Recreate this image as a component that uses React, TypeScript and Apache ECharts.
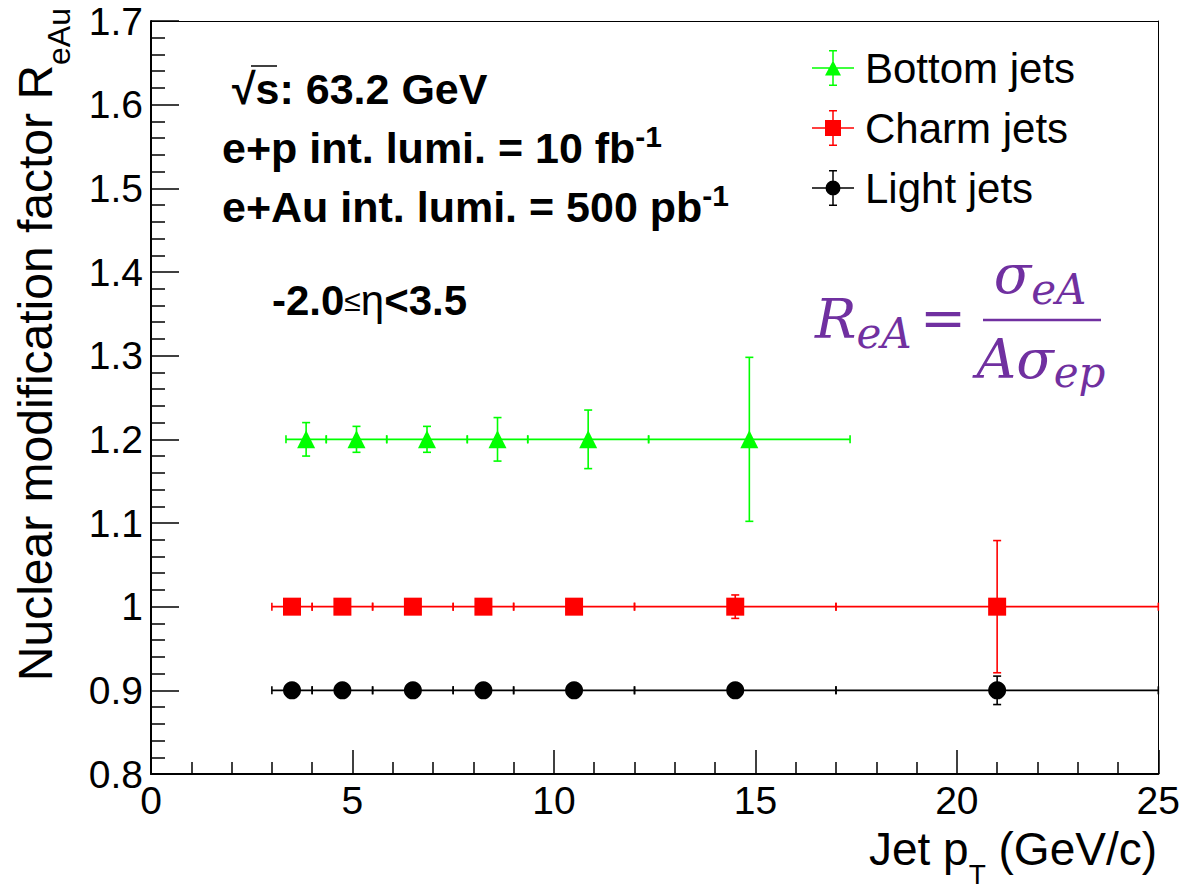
import React, { useEffect, useRef } from 'react';
import * as echarts from 'echarts';

// ---------- data ----------
const bottomX = [3.85, 5.1, 6.85, 8.6, 10.85, 14.85];
const bottomXLow = [3.35, 4.35, 5.85, 7.85, 9.35, 12.35];
const bottomXHigh = [4.35, 5.85, 7.85, 9.35, 12.35, 17.35];
const bottomY = [1.2, 1.2, 1.2, 1.2, 1.2, 1.2];
const bottomYErr = [0.02, 0.0155, 0.0155, 0.026, 0.035, 0.098];

const charmX = [3.5, 4.75, 6.5, 8.25, 10.5, 14.5, 21];
const charmXLow = [3, 4, 5.5, 7.5, 9, 12, 17];
const charmXHigh = [4, 5.5, 7.5, 9, 12, 17, 25];
const charmY = [1, 1, 1, 1, 1, 1, 1];
const charmYErr = [0.003, 0.003, 0.004, 0.004, 0.005, 0.014, 0.079];

const lightX = [3.5, 4.75, 6.5, 8.25, 10.5, 14.5, 21];
const lightXLow = [3, 4, 5.5, 7.5, 9, 12, 17];
const lightXHigh = [4, 5.5, 7.5, 9, 12, 17, 25];
const lightY = [0.9, 0.9, 0.9, 0.9, 0.9, 0.9, 0.9];
const lightYErr = [0.002, 0.002, 0.002, 0.003, 0.003, 0.006, 0.017];

const seriesNames = ['Bottom jets', 'Charm jets', 'Light jets'];
const X_MIN = 0, X_MAX = 25, X_STEP = 5;
const Y_MIN = 0.8, Y_MAX = 1.7, Y_STEP = 0.1;

const FONT = "'Liberation Sans', Arial, Helvetica, sans-serif";
const SERIF = "'DejaVu Serif', 'Liberation Serif', serif";
const PURPLE = '#7030a0';

// legend icons: error cross + marker (42 x 36 box)
const CROSS =
  'M0 17.25 h42 v1.5 h-42 Z M20.25 0 h1.5 v36 h-1.5 Z M17 0 h8 v1.5 h-8 Z M17 34.5 h8 v1.5 h-8 Z ';
const ICON_TRI = 'path://' + CROSS + 'M13 25.5 L21 10.5 L29 25.5 Z';
const ICON_SQ = 'path://' + CROSS + 'M13 10 h16 v16 h-16 Z';
const ICON_CIRC = 'path://' + CROSS + 'M13.5 18 A7.5 7.5 0 1 1 28.5 18 A7.5 7.5 0 1 1 13.5 18 Z';

function rows(x: number[], y: number[], lo: number[], hi: number[], err: number[]) {
  return x.map((v, i) => [v, y[i], lo[i], hi[i], err[i]]);
}

function errorRenderer(color: string) {
  return (params: any, api: any) => {
    const x = api.value(0);
    const y = api.value(1);
    const xl = api.value(2);
    const xh = api.value(3);
    const ye = api.value(4);
    const c = api.coord([x, y]);
    const pl = api.coord([xl, y]);
    const ph = api.coord([xh, y]);
    const pt = api.coord([x, y + ye]);
    const pb = api.coord([x, y - ye]);
    const style = { stroke: color, lineWidth: 1.6, fill: 'none' };
    const e = 4;
    const ln = (x1: number, y1: number, x2: number, y2: number) => ({
      type: 'line',
      shape: { x1, y1, x2, y2 },
      style,
    });
    return {
      type: 'group',
      children: [
        ln(pl[0], c[1], ph[0], c[1]),
        ln(pl[0], c[1] - e, pl[0], c[1] + e),
        ln(ph[0], c[1] - e, ph[0], c[1] + e),
        ln(c[0], pt[1], c[0], pb[1]),
        ln(c[0] - e, pt[1], c[0] + e, pt[1]),
        ln(c[0] - e, pb[1], c[0] + e, pb[1]),
      ],
    };
  };
}

const sets = [
  { name: seriesNames[0], color: '#00ff00', symbol: 'triangle', data: rows(bottomX, bottomY, bottomXLow, bottomXHigh, bottomYErr) },
  { name: seriesNames[1], color: '#ff0000', symbol: 'rect', data: rows(charmX, charmY, charmXLow, charmXHigh, charmYErr) },
  { name: seriesNames[2], color: '#000000', symbol: 'circle', data: rows(lightX, lightY, lightXLow, lightXHigh, lightYErr) },
];

const mathRich = (subPad: number) => ({
  m: { fontSize: 55, fontStyle: 'italic', fontFamily: SERIF, fill: PURPLE },
  s: { fontSize: 42, fontStyle: 'italic', fontFamily: SERIF, fill: PURPLE, padding: [subPad, 0, 0, 0] },
});

function buildOption() {
  const series: any[] = [];
  sets.forEach((s) => {
    series.push({
      type: 'scatter',
      name: s.name,
      data: s.data.map((r) => [r[0], r[1]]),
      symbol: s.symbol,
      symbolSize: 18,
      itemStyle: { color: s.color, opacity: 1 },
      z: 4,
      emphasis: { disabled: true },
    });
    series.push({
      type: 'custom',
      name: s.name,
      data: s.data,
      encode: { x: [0, 2, 3], y: [1] },
      renderItem: errorRenderer(s.color),
      itemStyle: { color: s.color },
      clip: false,
      z: 3,
    });
  });

  const tickStyle = { color: '#000', width: 1.5 };

  return {
    animation: false,
    backgroundColor: '#fff',
    grid: { left: 151, top: 21, width: 1008, height: 753, containLabel: false },
    xAxis: [
      {
        type: 'value',
        min: X_MIN,
        max: X_MAX,
        interval: X_STEP,
        position: 'bottom',
        axisLine: { onZero: false, lineStyle: { color: '#000', width: 2 } },
        axisTick: { inside: true, length: 24, lineStyle: tickStyle },
        minorTick: { show: true, splitNumber: 5, length: 12, lineStyle: tickStyle },
        axisLabel: { fontSize: 39, color: '#000', fontFamily: FONT, margin: 7 },
        splitLine: { show: false },
        minorSplitLine: { show: false },
      },
      {
        type: 'value',
        min: X_MIN,
        max: X_MAX,
        position: 'top',
        axisLine: { show: true, onZero: false, lineStyle: { color: '#000', width: 1 } },
        axisTick: { show: false },
        axisLabel: { show: false },
        splitLine: { show: false },
      },
    ],
    yAxis: [
      {
        type: 'value',
        min: Y_MIN,
        max: Y_MAX,
        interval: Y_STEP,
        position: 'left',
        axisLine: { show: true, onZero: false, lineStyle: { color: '#000', width: 2 } },
        axisTick: { show: true, inside: true, length: 28, lineStyle: tickStyle },
        minorTick: { show: true, splitNumber: 5, length: 14, lineStyle: tickStyle },
        axisLabel: { fontSize: 39, color: '#000', fontFamily: FONT, margin: 8 },
        splitLine: { show: false },
      },
      {
        type: 'value',
        min: Y_MIN,
        max: Y_MAX,
        position: 'right',
        axisLine: { show: true, onZero: false, lineStyle: { color: '#000', width: 1 } },
        axisTick: { show: false },
        axisLabel: { show: false },
        splitLine: { show: false },
      },
    ],
    legend: {
      orient: 'vertical',
      left: 807,
      top: 42,
      padding: 5,
      itemWidth: 42,
      itemHeight: 36,
      itemGap: 18,
      selectedMode: false,
      textStyle: { fontSize: 42, color: '#000', fontFamily: FONT, padding: [0, 0, 0, 6] },
      data: [
        { name: seriesNames[0], icon: ICON_TRI },
        { name: seriesNames[1], icon: ICON_SQ },
        { name: seriesNames[2], icon: ICON_CIRC },
      ],
    },
    graphic: [
      {
        type: 'text',
        x: 35,
        y: 8,
        rotation: Math.PI / 2,
        style: {
          text: '{a|Nuclear modification factor R}{b|eAu}',
          align: 'right',
          verticalAlign: 'middle',
          rich: {
            a: { fontSize: 48, fontFamily: FONT, fill: '#000' },
            b: { fontSize: 32, fontFamily: FONT, fill: '#000', padding: [48, 0, 0, 0] },
          },
        },
      },
      {
        type: 'text',
        x: 1157,
        y: 849,
        style: {
          text: '{a|Jet p}{b|T}{a| (GeV/c)}',
          align: 'right',
          verticalAlign: 'middle',
          rich: {
            a: { fontSize: 46, fontFamily: FONT, fill: '#000' },
            b: { fontSize: 28, fontFamily: FONT, fill: '#000', padding: [50, 0, 0, 0] },
          },
        },
      },
      {
        type: 'text',
        x: 232,
        y: 89,
        style: {
          text: '√s: 63.2 GeV',
          fontSize: 43,
          fontWeight: 'bold',
          fontFamily: FONT,
          fill: '#000',
          align: 'left',
          verticalAlign: 'middle',
        },
      },
      {
        type: 'line',
        shape: { x1: 251, y1: 66, x2: 277, y2: 66 },
        style: { stroke: '#000', lineWidth: 1.5 },
      },
      {
        type: 'text',
        x: 222,
        y: 148,
        style: {
          text: '{b|e+p int. lumi. = 10 fb}{s|-1}',
          align: 'left',
          verticalAlign: 'middle',
          rich: {
            b: { fontSize: 43, fontWeight: 'bold', fontFamily: FONT, fill: '#000' },
            s: { fontSize: 30, fontWeight: 'bold', fontFamily: FONT, fill: '#000', padding: [0, 0, 24, 0] },
          },
        },
      },
      {
        type: 'text',
        x: 222,
        y: 207,
        style: {
          text: '{b|e+Au int. lumi. = 500 pb}{s|-1}',
          align: 'left',
          verticalAlign: 'middle',
          rich: {
            b: { fontSize: 43, fontWeight: 'bold', fontFamily: FONT, fill: '#000' },
            s: { fontSize: 30, fontWeight: 'bold', fontFamily: FONT, fill: '#000', padding: [0, 0, 24, 0] },
          },
        },
      },
      {
        type: 'text',
        x: 272,
        y: 300,
        style: {
          text: '{b|-2.0}{m|≤}{e|η}{b|<3.5}',
          align: 'left',
          verticalAlign: 'middle',
          rich: {
            b: { fontSize: 42, fontWeight: 'bold', fontFamily: FONT, fill: '#000' },
            m: { fontSize: 30, fontFamily: FONT, fill: '#000' },
            e: { fontSize: 42, fontFamily: FONT, fill: '#000' },
          },
        },
      },
      // formula R_eA = sigma_eA / (A sigma_ep)
      {
        type: 'text',
        x: 815,
        y: 319,
        style: { text: '{m|R}{s|eA}', align: 'left', verticalAlign: 'middle', rich: mathRich(28) },
      },
      { type: 'text', x: 943, y: 318, style: { text: '=', font: `55px ${SERIF}`, fill: PURPLE, align: 'center', verticalAlign: 'middle' } },
      { type: 'line', shape: { x1: 983, y1: 320, x2: 1101, y2: 320 }, style: { stroke: PURPLE, lineWidth: 2.5 } },
      {
        type: 'text',
        x: 1040,
        y: 274,
        style: { text: '{m|σ}{s|eA}', align: 'center', verticalAlign: 'middle', rich: mathRich(30) },
      },
      {
        type: 'text',
        x: 1041,
        y: 359,
        style: { text: '{m|Aσ}{s|ep}', align: 'center', verticalAlign: 'middle', rich: mathRich(26) },
      },
    ],
    series,
  };
}

export default function App() {
  const ref = useRef<HTMLDivElement>(null);
  useEffect(() => {
    if (!ref.current) return;
    const chart = echarts.init(ref.current, null, { renderer: 'svg' });
    chart.setOption(buildOption() as any);
    return () => chart.dispose();
  }, []);
  return (
    <div
      ref={ref}
      style={{ position: 'fixed', left: 0, top: 0, width: 1183, height: 889, background: '#fff' }}
    />
  );
}
